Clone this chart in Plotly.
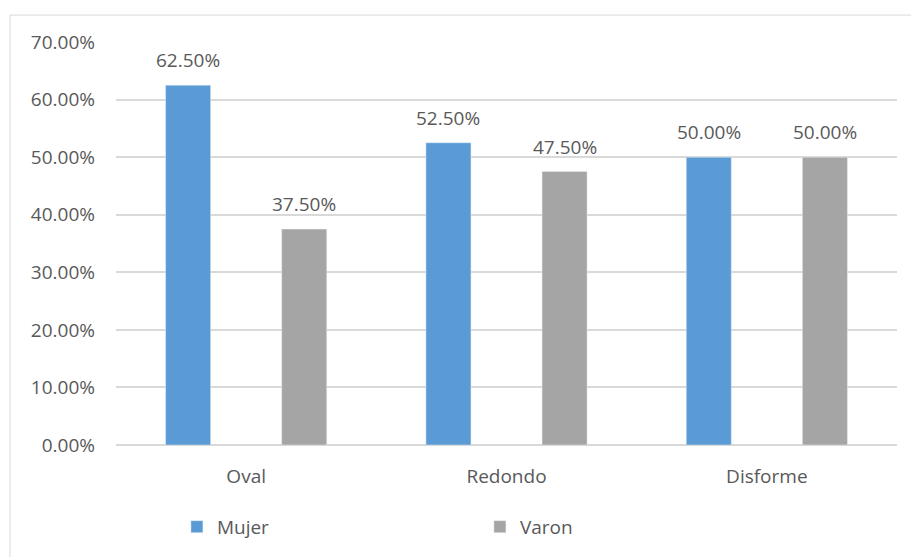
import plotly.graph_objects as go

# Face-shape distribution by sex
categories = ["Oval", "Redondo", "Disforme"]
mujer = [0.625, 0.525, 0.50]
varon = [0.375, 0.475, 0.50]
y_ticks = [0.0, 0.1, 0.2, 0.3, 0.4, 0.5, 0.6, 0.7]

BLUE = "#5B9BD5"
GRAY = "#A5A5A5"
TEXT = "#595959"
GRID = "#D9D9D9"
FONT = "Open Sans"
FS = 19

bargap = 0.108
bargroupgap = 0.612

fig = go.Figure()
fig.add_trace(go.Bar(name="Mujer", x=categories, y=mujer, marker_color=BLUE))
fig.add_trace(go.Bar(name="Varon", x=categories, y=varon, marker_color=GRAY))

# value labels above each bar
offset = (1 - bargap) / 4
annotations = []
for i in range(len(categories)):
    for val, dx in ((mujer[i], -offset), (varon[i], offset)):
        annotations.append(dict(
            x=i + dx, y=val, xref="x", yref="y",
            text=f"{val * 100:.2f}%", showarrow=False,
            yanchor="middle", yshift=25,
            font=dict(family=FONT, size=FS, color=TEXT),
        ))

fig.update_layout(
    width=911, height=557,
    margin=dict(l=116, r=14, t=42, b=111),
    paper_bgcolor="white", plot_bgcolor="white",
    barmode="group", bargap=bargap, bargroupgap=bargroupgap,
    font=dict(family=FONT, size=FS, color=TEXT),
    showlegend=True,
    legend=dict(
        orientation="h", x=0.078, xanchor="left", y=-0.2, yanchor="middle",
        entrywidth=258, entrywidthmode="pixels",
        font=dict(family=FONT, size=FS, color=TEXT),
        itemclick=False,
    ),
    annotations=annotations,
    shapes=[dict(
        type="rect", xref="paper", yref="paper",
        x0=(10 - 116) / 781, x1=1.2, y0=-0.6, y1=1 + (42 - 15) / 404,
        line=dict(color=GRID, width=1), fillcolor="rgba(0,0,0,0)", layer="below",
    )],
)
fig.update_xaxes(
    type="category", showgrid=False, showline=False, ticks="",
    ticklabelstandoff=18, tickfont=dict(family=FONT, size=FS, color=TEXT),
)
fig.update_yaxes(
    range=[0, 0.7], tickvals=y_ticks, tickformat=".2%",
    showgrid=True, gridcolor=GRID, gridwidth=1.5, zeroline=True,
    zerolinecolor=GRID, zerolinewidth=1.5, showline=False, ticks="",
    ticklabelstandoff=20, tickfont=dict(family=FONT, size=FS, color=TEXT),
)

fig.write_html("out.html")
